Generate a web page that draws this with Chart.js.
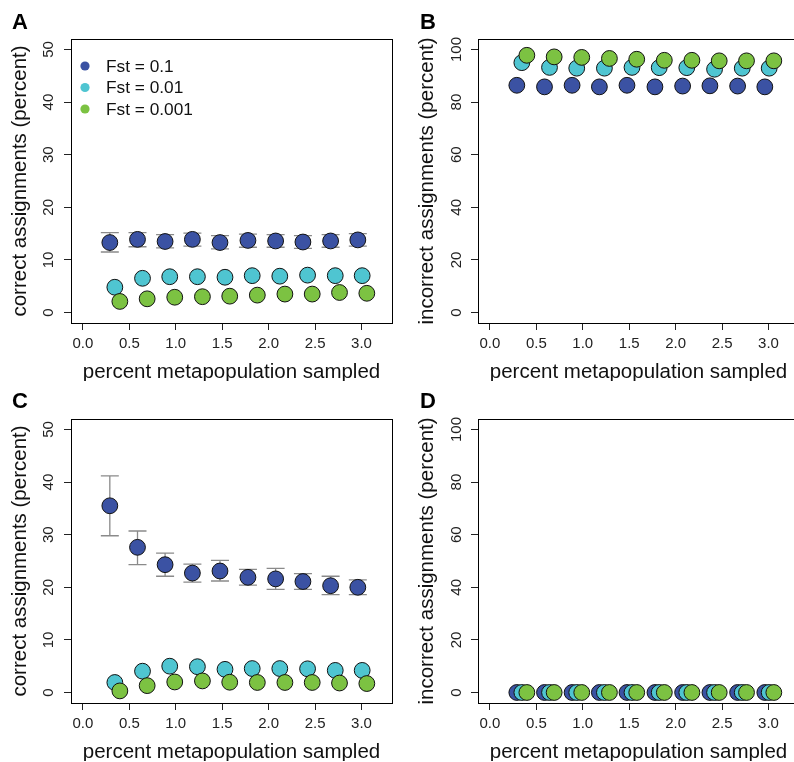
<!DOCTYPE html>
<html>
<head>
<meta charset="utf-8">
<script src="https://cdn.jsdelivr.net/npm/chart.js@4.4.1/dist/chart.umd.min.js"></script>
<style>
  html, body { margin: 0; padding: 0; background: #fff; overflow: hidden; }
  body { width: 794px; height: 762px; position: relative; font-family: 'Liberation Sans', Arial, sans-serif; }
  .panel { position: absolute; width: 407px; height: 381px; }
  .letter { position: absolute; font-weight: bold; font-size: 22px; line-height: 22px; color: #000; }
</style>
</head>
<body>
<div class="panel" style="left:0;top:0"><canvas id="chartA" width="407" height="381"></canvas></div>
<div class="panel" style="left:407px;top:0"><canvas id="chartB" width="407" height="381"></canvas></div>
<div class="panel" style="left:0;top:380px"><canvas id="chartC" width="407" height="381"></canvas></div>
<div class="panel" style="left:407px;top:380px"><canvas id="chartD" width="407" height="381"></canvas></div>
<div class="letter" style="left:12px;top:11px">A</div>
<div class="letter" style="left:420px;top:11px">B</div>
<div class="letter" style="left:12px;top:390px">C</div>
<div class="letter" style="left:420px;top:390px">D</div>
<script>
// x positions (percent metapopulation sampled), slightly offset per Fst
const xFst1 = [0.29, 0.588, 0.885, 1.179, 1.476, 1.777, 2.075, 2.369, 2.667, 2.96];
const xFst01 = [0.344, 0.642, 0.935, 1.233, 1.53, 1.823, 2.12, 2.419, 2.717, 3.007];
const xFst001 = [0.398, 0.692, 0.989, 1.287, 1.581, 1.878, 2.175, 2.469, 2.763, 3.057];

const seriesLabels = ['Fst = 0.1', 'Fst = 0.01', 'Fst = 0.001'];
const seriesColors = ['#3b52a3', '#4fc5d1', '#7cc242'];

// panel A: correct assignments
const correctA1 = [13.3, 13.9, 13.5, 13.9, 13.3, 13.7, 13.6, 13.4, 13.6, 13.8];
const correctA1lo = [11.5, 12.5, 12.3, 12.6, 12.1, 12.4, 12.4, 12.2, 12.4, 12.6];
const correctA1hi = [15.2, 15.2, 14.8, 15.1, 14.6, 14.9, 14.8, 14.6, 14.8, 15.0];
const correctA01 = [4.8, 6.5, 6.8, 6.8, 6.7, 7.0, 6.9, 7.1, 7.0, 7.0];
const correctA001 = [2.1, 2.6, 2.9, 3.0, 3.1, 3.3, 3.5, 3.5, 3.8, 3.65];

// panel B: incorrect assignments
const incorrectB1 = [86.4, 85.8, 86.4, 85.8, 86.4, 85.8, 86.1, 86.2, 86.1, 85.8];
const incorrectB01 = [95.0, 93.2, 92.9, 92.9, 93.2, 93.1, 93.1, 92.5, 92.9, 92.9];
const incorrectB001 = [97.8, 97.2, 97.0, 96.6, 96.3, 95.9, 95.9, 95.7, 95.7, 95.7];

// panel C: correct assignments
const correctC1 = [35.5, 27.6, 24.3, 22.7, 23.1, 21.9, 21.6, 21.1, 20.3, 20.0];
const correctC1lo = [29.8, 24.3, 22.1, 21.0, 21.2, 20.4, 19.6, 19.6, 18.6, 18.6];
const correctC1hi = [41.2, 30.7, 26.5, 24.4, 25.1, 23.4, 23.6, 22.6, 22.1, 21.4];
const correctC01 = [1.9, 4.05, 5.0, 4.9, 4.4, 4.55, 4.55, 4.5, 4.2, 4.2];
const correctC001 = [0.3, 1.3, 2.0, 2.2, 1.95, 1.9, 1.9, 1.9, 1.8, 1.7];

// panel D: incorrect assignments
const incorrectD1 = [0, 0, 0, 0, 0, 0, 0, 0, 0, 0];
const incorrectD01 = [0, 0, 0, 0, 0, 0, 0, 0, 0, 0];
const incorrectD001 = [0, 0, 0, 0, 0, 0, 0, 0, 0, 0];

const xTitle = 'percent metapopulation sampled';
const FONT = "'Liberation Sans', Arial, sans-serif";

function pts(xs, ys) {
  return xs.map((x, i) => ({ x: x, y: ys[i] }));
}

// box around plot area
const boxPlugin = {
  id: 'box',
  afterDraw(chart) {
    const a = chart.chartArea;
    const ctx = chart.ctx;
    ctx.save();
    ctx.strokeStyle = '#000';
    ctx.lineWidth = 1;
    ctx.strokeRect(Math.round(a.left) + 0.5, Math.round(a.top) + 0.5, Math.round(a.right - a.left), Math.round(a.bottom - a.top));
    ctx.restore();
  }
};

// error bars drawn under points
const errorBarPlugin = {
  id: 'errbars',
  beforeDatasetsDraw(chart) {
    const ctx = chart.ctx;
    const xs = chart.scales.x, ys = chart.scales.y;
    ctx.save();
    ctx.strokeStyle = '#8a8a8a';
    ctx.lineWidth = 1.3;
    chart.data.datasets.forEach(ds => {
      if (!ds.errLo) return;
      ds.data.forEach((p, i) => {
        const px = xs.getPixelForValue(p.x);
        const y1 = ys.getPixelForValue(ds.errLo[i]);
        const y2 = ys.getPixelForValue(ds.errHi[i]);
        ctx.beginPath();
        ctx.moveTo(px, y1); ctx.lineTo(px, y2);
        ctx.moveTo(px - 9, y1); ctx.lineTo(px + 9, y1);
        ctx.moveTo(px - 9, y2); ctx.lineTo(px + 9, y2);
        ctx.stroke();
      });
    });
    ctx.restore();
  }
};

// R-style legend inside panel A
const innerLegend = {
  id: 'innerLegend',
  afterDraw(chart) {
    if (!chart.options.plugins.innerLegend || !chart.options.plugins.innerLegend.show) return;
    const ctx = chart.ctx;
    const a = chart.chartArea;
    ctx.save();
    ctx.font = '17.3px ' + FONT;
    ctx.textBaseline = 'middle';
    seriesLabels.forEach((lab, i) => {
      const y = a.top + 27 + i * 21.5;
      ctx.fillStyle = seriesColors[i];
      ctx.beginPath();
      ctx.arc(a.left + 14, y, 4.6, 0, Math.PI * 2);
      ctx.fill();
      ctx.fillStyle = '#111';
      ctx.fillText(lab, a.left + 35, y + 1);
    });
    ctx.restore();
  }
};

function makePanel(id, yTitle, yMax, yStep, ys, lo, hi, showLegend, yPad) {
  const datasets = [
    { label: seriesLabels[0], data: pts(xFst1, ys[0]), backgroundColor: seriesColors[0], order: 3, errLo: lo, errHi: hi },
    { label: seriesLabels[1], data: pts(xFst01, ys[1]), backgroundColor: seriesColors[1], order: 2 },
    { label: seriesLabels[2], data: pts(xFst001, ys[2]), backgroundColor: seriesColors[2], order: 1 }
  ];
  datasets.forEach(d => {
    d.borderColor = '#111';
    d.borderWidth = 1;
    d.pointRadius = 7.9;
    d.pointHoverRadius = 7.9;
  });

  return new Chart(document.getElementById(id), {
    type: 'scatter',
    data: { datasets },
    plugins: [boxPlugin, errorBarPlugin, innerLegend],
    options: {
      responsive: false,
      animation: false,
      events: [],
      layout: { padding: { left: 0, right: 15, top: 39, bottom: 0 } },
      plugins: {
        legend: { display: false },
        tooltip: { enabled: false },
        innerLegend: { show: showLegend }
      },
      scales: {
        x: {
          type: 'linear',
          min: -0.128,
          max: 3.328,
          afterFit: s => { s.height = 58; },
          grid: { drawOnChartArea: false, drawTicks: true, tickLength: 7, color: '#222' },
          border: { display: true, color: '#000' },
          ticks: {
            stepSize: 0.5,
            includeBounds: false,
            padding: 5,
            color: '#222',
            font: { family: FONT, size: 15 },
            callback: v => v.toFixed(1)
          },
          title: {
            display: true,
            text: xTitle,
            color: '#111',
            font: { family: FONT, size: 20.5, lineHeight: 0.8 },
            padding: { top: 0, bottom: 0 }
          }
        },
        y: {
          type: 'linear',
          min: -yMax * 0.04,
          max: yMax * 1.04,
          afterFit: s => { s.width = 71; },
          grid: { drawOnChartArea: false, drawTicks: true, tickLength: 7, color: '#222' },
          border: { display: true, color: '#000' },
          ticks: {
            stepSize: yStep,
            includeBounds: false,
            padding: yPad,
            minRotation: 90,
            maxRotation: 90,
            crossAlign: 'center',
            color: '#222',
            font: { family: FONT, size: 15 }
          },
          title: {
            display: true,
            text: yTitle,
            color: '#111',
            font: { family: FONT, size: 20.5, lineHeight: 0.9 },
            padding: { top: 11.5, bottom: 0 }
          }
        }
      }
    }
  });
}

makePanel('chartA', 'correct assignments (percent)', 50, 10,
  [correctA1, correctA01, correctA001], correctA1lo, correctA1hi, true, 7);
makePanel('chartB', 'incorrect assignments (percent)', 100, 20,
  [incorrectB1, incorrectB01, incorrectB001], null, null, false, 1.5);
makePanel('chartC', 'correct assignments (percent)', 50, 10,
  [correctC1, correctC01, correctC001], correctC1lo, correctC1hi, false, 7);
makePanel('chartD', 'incorrect assignments (percent)', 100, 20,
  [incorrectD1, incorrectD01, incorrectD001], null, null, false, 1.5);
</script>
</body>
</html>
